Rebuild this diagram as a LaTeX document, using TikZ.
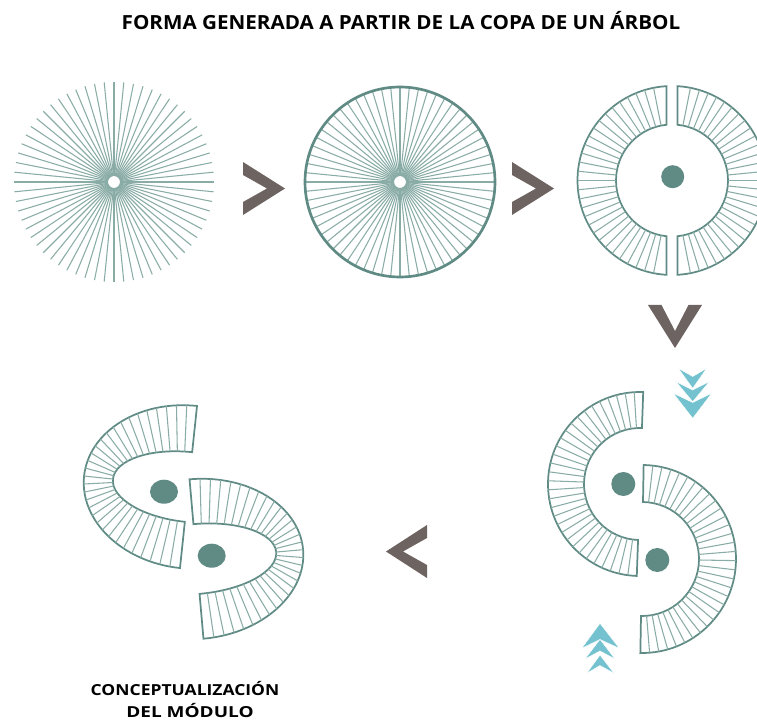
\documentclass[tikz,border=0pt]{standalone}
\usepackage{fontspec}
\setmainfont{Open Sans}
\usetikzlibrary{calc}
\definecolor{tealline}{HTML}{5F8B84}
\definecolor{spokecol}{HTML}{8AACA6}
\definecolor{chevcol}{HTML}{6D6360}
\definecolor{cyancol}{HTML}{74C2CF}
\begin{document}
\begin{tikzpicture}[x=0.75pt,y=0.75pt,
  spokeline/.style={spokecol,line width=0.8pt},
  ringline/.style={tealline,line width=1.3pt,line join=miter},
  dotfill/.style={fill=tealline},
  chevfill/.style={fill=chevcol},
  cyanfill/.style={fill=cyancol,draw=white,line width=0.35pt},
  titlefont/.style={font=\bfseries\fontsize{14.6}{17}\selectfont,inner sep=0pt},
  labelfont/.style={font=\bfseries\fontsize{11.4}{14}\selectfont,inner sep=0pt,anchor=base}]
\useasboundingbox (0,0) rectangle (757,-720);

% title
\node[titlefont] (title) at (401,-21) {\scalebox{1.06}[1]{FORMA GENERADA A PARTIR DE LA COPA DE UN ÁRBOL}};

% 1: starburst
\coordinate (c1) at (114,-182);
\foreach \k in {0,...,63} {
  \draw[spokeline] ($(c1)+({\k*5.625}:6)$) -- ($(c1)+({\k*5.625}:100)$);
}
\fill[white] (c1) circle (5);

% 2: circle with spokes
\coordinate (c2) at (400,-182);
\foreach \k in {0,...,63} {
  \draw[spokeline] ($(c2)+({\k*5.625}:6)$) -- ($(c2)+({\k*5.625}:95)$);
}
\fill[white] (c2) circle (5);
\draw[tealline,line width=2pt] (c2) circle (95);

% 3: split ring
\coordinate (c3) at (672,-180.5);
\draw[ringline] ($(c3)+(93.34:94.5)$) arc[start angle=93.34,end angle=266.66,radius=94.5]
  -- ($(c3)+(264.36:56)$) arc[start angle=264.36,end angle=95.64,radius=56] -- cycle;
\draw[ringline] ($(c3)+(86.66:94.5)$) arc[start angle=86.66,end angle=-86.66,radius=94.5]
  -- ($(c3)+(-84.36:56)$) arc[start angle=-84.36,end angle=84.36,radius=56] -- cycle;
\foreach \k in {2,...,30} {
  \draw[spokeline] ($(c3)+({90+\k*5.625}:56)$) -- ($(c3)+({90+\k*5.625}:94.5)$);
  \draw[spokeline] ($(c3)+({-90+\k*5.625}:56)$) -- ($(c3)+({-90+\k*5.625}:94.5)$);
}
\fill[dotfill] (672.7,-176.7) circle (11.5);

% chevrons (grey)
\fill[chevfill] (243,-162) -- (285,-188.5) -- (243,-215) -- (243,-202) -- (267,-188.5) -- (243,-175) -- cycle;
\fill[chevfill] (512,-162) -- (554,-188.5) -- (512,-215) -- (512,-202) -- (536,-188.5) -- (512,-175) -- cycle;
\fill[chevfill] (648,-305) -- (675,-348) -- (702,-305) -- (688.5,-305) -- (675,-331) -- (661.5,-305) -- cycle;
\fill[chevfill] (427,-525) -- (386,-551.5) -- (427,-578) -- (427,-565) -- (403,-551.5) -- (427,-538) -- cycle;

% cyan chevrons down
\filldraw[cyanfill] (678.3,-368.3) -- (692.7,-388.3) -- (706.7,-368.3) -- (692.7,-376.5) -- cycle;
\filldraw[cyanfill] (676,-381.7) -- (692.7,-401.7) -- (709.3,-381.7) -- (692.7,-390) -- cycle;
\filldraw[cyanfill] (673.3,-393.3) -- (692.7,-418.3) -- (711.7,-393.3) -- (692.7,-402.5) -- cycle;

% cyan chevrons up
\filldraw[cyanfill] (586.7,-673.3) -- (600,-655) -- (614,-673.3) -- (600,-665.5) -- cycle;
\filldraw[cyanfill] (585,-659) -- (600,-639.3) -- (615,-659) -- (600,-651) -- cycle;
\filldraw[cyanfill] (581.7,-648.3) -- (600,-623.3) -- (619.3,-648.3) -- (600,-639.5) -- cycle;

% S shape, upper C
\begin{scope}[shift={(640,-484)},rotate=-2]
  \draw[ringline] (90:92) arc[start angle=90,end angle=270,radius=92]
    -- (270:56) arc[start angle=270,end angle=90,radius=56] -- cycle;
  \foreach \k in {1,...,31} {
    \draw[spokeline] ({90+\k*5.625}:56) -- ({90+\k*5.625}:92);
  }
\end{scope}
% S shape, lower C
\begin{scope}[shift={(642,-559)},rotate=-1]
  \draw[ringline] (-90:94) arc[start angle=-90,end angle=90,radius=94]
    -- (90:57) arc[start angle=90,end angle=-90,radius=57] -- cycle;
  \foreach \k in {1,...,31} {
    \draw[spokeline] ({-90+\k*5.625}:57) -- ({-90+\k*5.625}:94);
  }
\end{scope}
\fill[dotfill] (623.3,-484) circle (12);
\fill[dotfill] (657.3,-560) circle (12);

% module (bottom left), upper piece
\begin{scope}[shift={(188.5,-487)},rotate=-6]
  \draw[ringline] (0,81.5) arc[start angle=90,end angle=270,x radius=105,y radius=81.5]
    -- (0,-35) arc[start angle=270,end angle=90,x radius=76,y radius=35] -- cycle;
  \foreach \k in {1,...,31} {
    \draw[spokeline] ({76*cos(90+\k*5.625)},{35*sin(90+\k*5.625)}) -- ({105*cos(90+\k*5.625)},{81.5*sin(90+\k*5.625)});
  }
\end{scope}
% lower piece
\begin{scope}[shift={(196.5,-559)},rotate=5]
  \draw[ringline] (0,-80) arc[start angle=-90,end angle=90,x radius=107,y radius=80]
    -- (0,35) arc[start angle=90,end angle=-90,x radius=80,y radius=35] -- cycle;
  \foreach \k in {1,...,31} {
    \draw[spokeline] ({80*cos(-90+\k*5.625)},{35*sin(-90+\k*5.625)}) -- ({107*cos(-90+\k*5.625)},{80*sin(-90+\k*5.625)});
  }
\end{scope}
\fill[dotfill] (164,-491.7) ellipse [x radius=14,y radius=12];
\fill[dotfill] (211.7,-555.7) ellipse [x radius=14,y radius=12];

% label
\node[labelfont] (label1) at (185,-695.5) {\scalebox{1.15}[1]{CONCEPTUALIZACIÓN}};
\node[labelfont] (label2) at (190,-717) {\scalebox{1.25}[1]{DEL MÓDULO}};
\end{tikzpicture}
\end{document}
